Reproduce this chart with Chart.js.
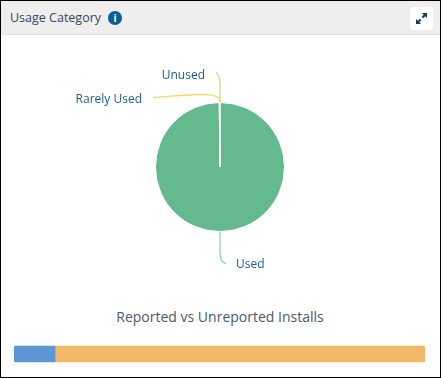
<!DOCTYPE html>
<html>
<head>
<meta charset="utf-8">
<script src="https://cdn.jsdelivr.net/npm/chart.js@4/dist/chart.umd.min.js"></script>
<style>
  html, body { margin: 0; padding: 0; background: #fff; }
  body { width: 441px; height: 378px; overflow: hidden; font-family: "Open Sans", sans-serif; }
  .card { position: relative; width: 439px; height: 376px; border: 1px solid #000; }
  .header { position: absolute; left: 0; top: 0; width: 439px; height: 33px; background: #eeeeee; border-bottom: 1px solid #e2e2e2; }
  .title { position: absolute; left: 9px; top: 8px; font-size: 12.5px; line-height: 18px; color: #35495e; }
  .info { position: absolute; left: 107px; top: 10px; width: 14px; height: 14px; border-radius: 50%; background: #0b5c99; color: #fff; font: bold 10px/14px "Open Sans", sans-serif; text-align: center; }
  .expand { position: absolute; left: 409px; top: 6px; width: 23px; height: 23px; background: #fff; border-radius: 3px; }
  .expand svg { position: absolute; left: 5px; top: 5px; }
  .pie-wrap { position: absolute; left: 0; top: 34px; width: 438px; height: 264px; }
  .pie-wrap canvas, .bar-wrap canvas { display: block; }
  .sub { position: absolute; left: 0; top: 306px; width: 438px; text-align: center; font-size: 14px; line-height: 20px; color: #4a5a6c; }
  .bar-wrap { position: absolute; left: 13px; top: 340px; width: 411px; height: 26px; }
</style>
</head>
<body>
<div class="card">
  <div class="header">
    <div class="title">Usage Category</div>
    <div class="info">i</div>
    <div class="expand">
      <svg width="13" height="13" viewBox="0 0 13 13">
        <path d="M7 1h5v5l-1.7-1.7-2 2-1.6-1.6 2-2z" fill="#0f3d63"/>
        <path d="M6 12H1V7l1.7 1.7 2-2 1.6 1.6-2 2z" fill="#0f3d63"/>
      </svg>
    </div>
  </div>
  <div class="pie-wrap"><canvas id="pieChart" width="438" height="264"></canvas></div>
  <div class="sub">Reported vs Unreported Installs</div>
  <div class="bar-wrap"><canvas id="barChart" width="411" height="26"></canvas></div>
</div>
<script>
const usageLabels = ['Used', 'Rarely Used', 'Unused'];
const usageValues = [998, 1, 1];
const usageColors = ['#65b98e', '#f5d76e', '#c8dc8e'];
const leaderColors = ['#8fd2b6', '#f5d76e', '#c8dc8e'];

const installLabels = ['Installs'];
const reportedValues = [10];
const unreportedValues = [90];

// leader lines and their labels, anchored to each slice's outer edge
const leaderLabels = {
  id: 'leaderLabels',
  afterDatasetsDraw(chart) {
    const ctx = chart.ctx;
    const arcs = chart.getDatasetMeta(0).data;
    const cx = arcs[0].x, cy = arcs[0].y, r = arcs[0].outerRadius;
    const top = cy - r, bottom = cy + r;
    ctx.save();
    ctx.lineWidth = 1.3;

    ctx.strokeStyle = leaderColors[2];
    ctx.beginPath();
    ctx.moveTo(cx, top);
    ctx.lineTo(cx, top - 18);
    ctx.bezierCurveTo(cx, top - 24, cx - 1, top - 28, cx - 4, top - 30);
    ctx.stroke();

    ctx.strokeStyle = leaderColors[1];
    ctx.beginPath();
    ctx.moveTo(cx, top);
    ctx.lineTo(cx, top - 2);
    ctx.bezierCurveTo(cx, top - 6, cx - 8, top - 8, cx - 20, top - 8);
    ctx.bezierCurveTo(cx - 35, top - 8, cx - 50, top - 6, cx - 67, top - 5);
    ctx.stroke();

    ctx.strokeStyle = leaderColors[0];
    ctx.beginPath();
    ctx.moveTo(cx, bottom);
    ctx.lineTo(cx, bottom + 20);
    ctx.bezierCurveTo(cx, bottom + 27, cx + 1, bottom + 31, cx + 6, bottom + 32);
    ctx.stroke();

    ctx.font = '12px "Open Sans", sans-serif';
    ctx.fillStyle = '#1a5a96';
    ctx.textBaseline = 'middle';
    ctx.textAlign = 'left';
    ctx.fillText(usageLabels[0], cx + 16, bottom + 33);
    ctx.textAlign = 'right';
    ctx.fillText(usageLabels[1], cx - 78, top - 3);
    ctx.fillText(usageLabels[2], cx - 15, top - 27);
    ctx.restore();
  }
};

const ctxPie = document.getElementById('pieChart').getContext('2d');
const pieChart = new Chart(ctxPie, {
  type: 'pie',
  data: {
    labels: usageLabels,
    datasets: [{
      data: usageValues,
      backgroundColor: usageColors,
      borderColor: '#ffffff',
      borderWidth: 1,
      radius: 64.5
    }]
  },
  options: {
    responsive: false,
    maintainAspectRatio: false,
    animation: false,
    layout: { padding: 0 },
    plugins: { legend: { display: false }, tooltip: { enabled: false } }
  },
  plugins: [leaderLabels]
});

const ctxBar = document.getElementById('barChart').getContext('2d');
const barChart = new Chart(ctxBar, {
  type: 'bar',
  data: {
    labels: installLabels,
    datasets: [
      { label: 'Reported', data: reportedValues, backgroundColor: '#5b97d5', borderRadius: { topLeft: 2, bottomLeft: 2 }, borderSkipped: false, barThickness: 16 },
      { label: 'Unreported', data: unreportedValues, backgroundColor: '#f0b868', borderRadius: { topRight: 2, bottomRight: 2 }, borderSkipped: false, barThickness: 16 }
    ]
  },
  options: {
    indexAxis: 'y',
    responsive: false,
    maintainAspectRatio: false,
    animation: false,
    layout: { padding: 0 },
    plugins: { legend: { display: false }, tooltip: { enabled: false } },
    scales: {
      x: { stacked: true, display: false, min: 0, max: 100 },
      y: { stacked: true, display: false }
    }
  }
});
</script>
</body>
</html>
